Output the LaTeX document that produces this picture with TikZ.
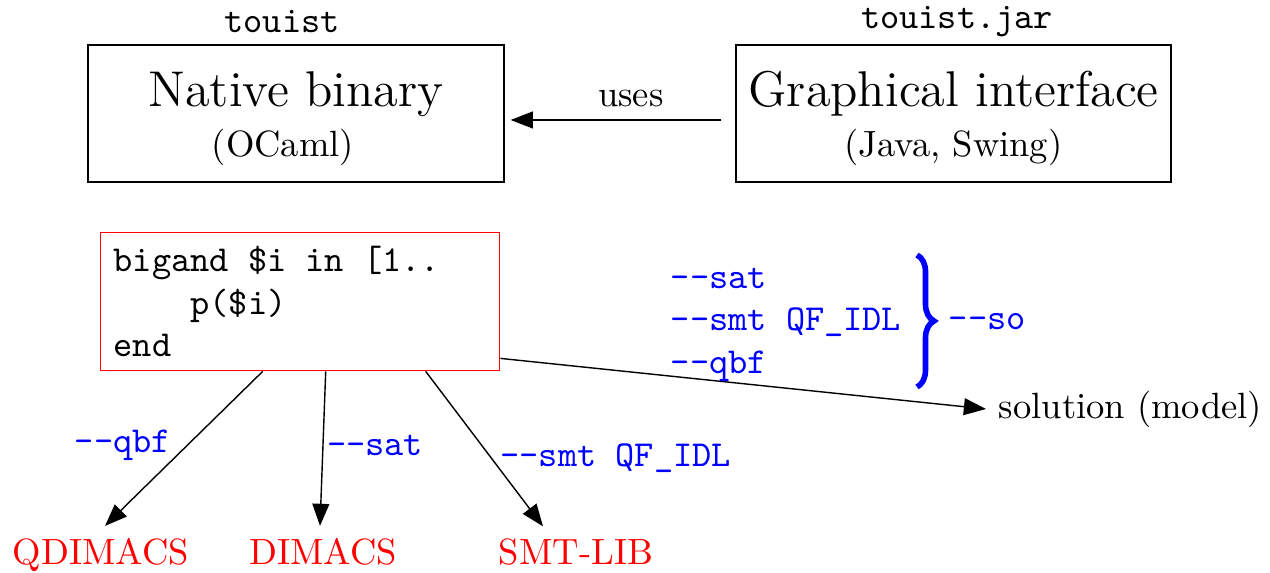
\documentclass[tikz,border=0pt]{standalone}
\usetikzlibrary{arrows.meta,decorations.pathreplacing}
\newcommand{\bigtxt}{\fontsize{14.3}{14}\selectfont}
\begin{document}
\begin{tikzpicture}[
    box/.style={draw, minimum width=4.16cm, minimum height=1.37cm, align=center},
    code/.style={draw=red, font=\ttfamily, text width=3.73cm, inner xsep=0.13cm, minimum height=1.38cm, align=left},
    opt/.style={blue, font=\ttfamily},
    fmt/.style={red, anchor=base},
    arr/.style={-{Triangle[length=6.3pt,width=4.8pt]}}
  ]
  \fontsize{10.4}{12.1}\selectfont
  \useasboundingbox (0,0) rectangle (12.7,-5.73);
  \clip (0,0) rectangle (12.7,-5.73);
  % the two programs
  \node[box] (native) at (2.96,-1.135) {{\bigtxt Native binary}\rule{0pt}{13pt}\\[2pt](OCaml)\hspace*{0.26cm}};
  \node[box, minimum width=4.35cm] (gui) at (9.535,-1.135) {{\bigtxt Graphical interface}\rule{0pt}{13pt}\\[2pt](Java, Swing)};
  \node[font=\ttfamily] (nativename) at (2.82,-0.22) {touist};
  \node[font=\ttfamily] (guiname) at (9.57,-0.22) {touist.jar};
  \draw[arr] ([shift={(-0.14,-0.065)}]gui.west) -- node[pos=0.43, above] {uses} ([shift={(0.06,-0.065)}]native.east);
  % the input file
  \node[code, anchor=north west] (src) at (1.00,-2.32) {\spaceskip=0pt\xspaceskip=0pt bigand \$i in [1..\\\phantom{xxxx}p(\$i)\\end};
  % what comes out
  \node[fmt] (qdimacs) at (1.01,-5.65) {QDIMACS};
  \node[fmt] (dimacs) at (3.23,-5.65) {DIMACS};
  \node[fmt] (smtlib) at (5.76,-5.65) {SMT-LIB};
  \node[anchor=west] (sol) at (9.86,-4.09) {solution (model)};
  \draw[arr] ([xshift=-0.375cm]src.south) -- node[opt, pos=0.48, anchor=east, inner sep=1pt, xshift=-0.12cm] {-{}-qbf} ([xshift=0.04cm]qdimacs.north);
  \draw[arr] ([xshift=0.255cm]src.south) -- node[opt, pos=0.48, anchor=west, inner sep=1pt] {-{}-sat} ([xshift=-0.03cm]dimacs.north);
  \draw[arr] ([xshift=1.255cm]src.south) -- node[opt, pos=0.56, anchor=west, inner sep=1pt, xshift=0.05cm] {-{}-smt QF\_IDL} ([xshift=-0.33cm]smtlib.north);
  \draw[arr] ([yshift=0.13cm]src.south east) -- (sol.west);
  % solver options
  \node[opt, anchor=west, align=left] (solvers) at (6.58,-3.245) {-{}-sat\\-{}-smt QF\_IDL\\-{}-qbf};
  \coordinate (btop) at (9.17,-2.55);
  \coordinate (bbot) at (9.17,-3.87);
  \draw[blue, line width=1.6pt, decorate, decoration={brace, amplitude=0.17cm}] (btop) -- (bbot);
  \node[opt, anchor=west] (so) at (9.36,-3.22) {-{}-so};
\end{tikzpicture}
\end{document}
